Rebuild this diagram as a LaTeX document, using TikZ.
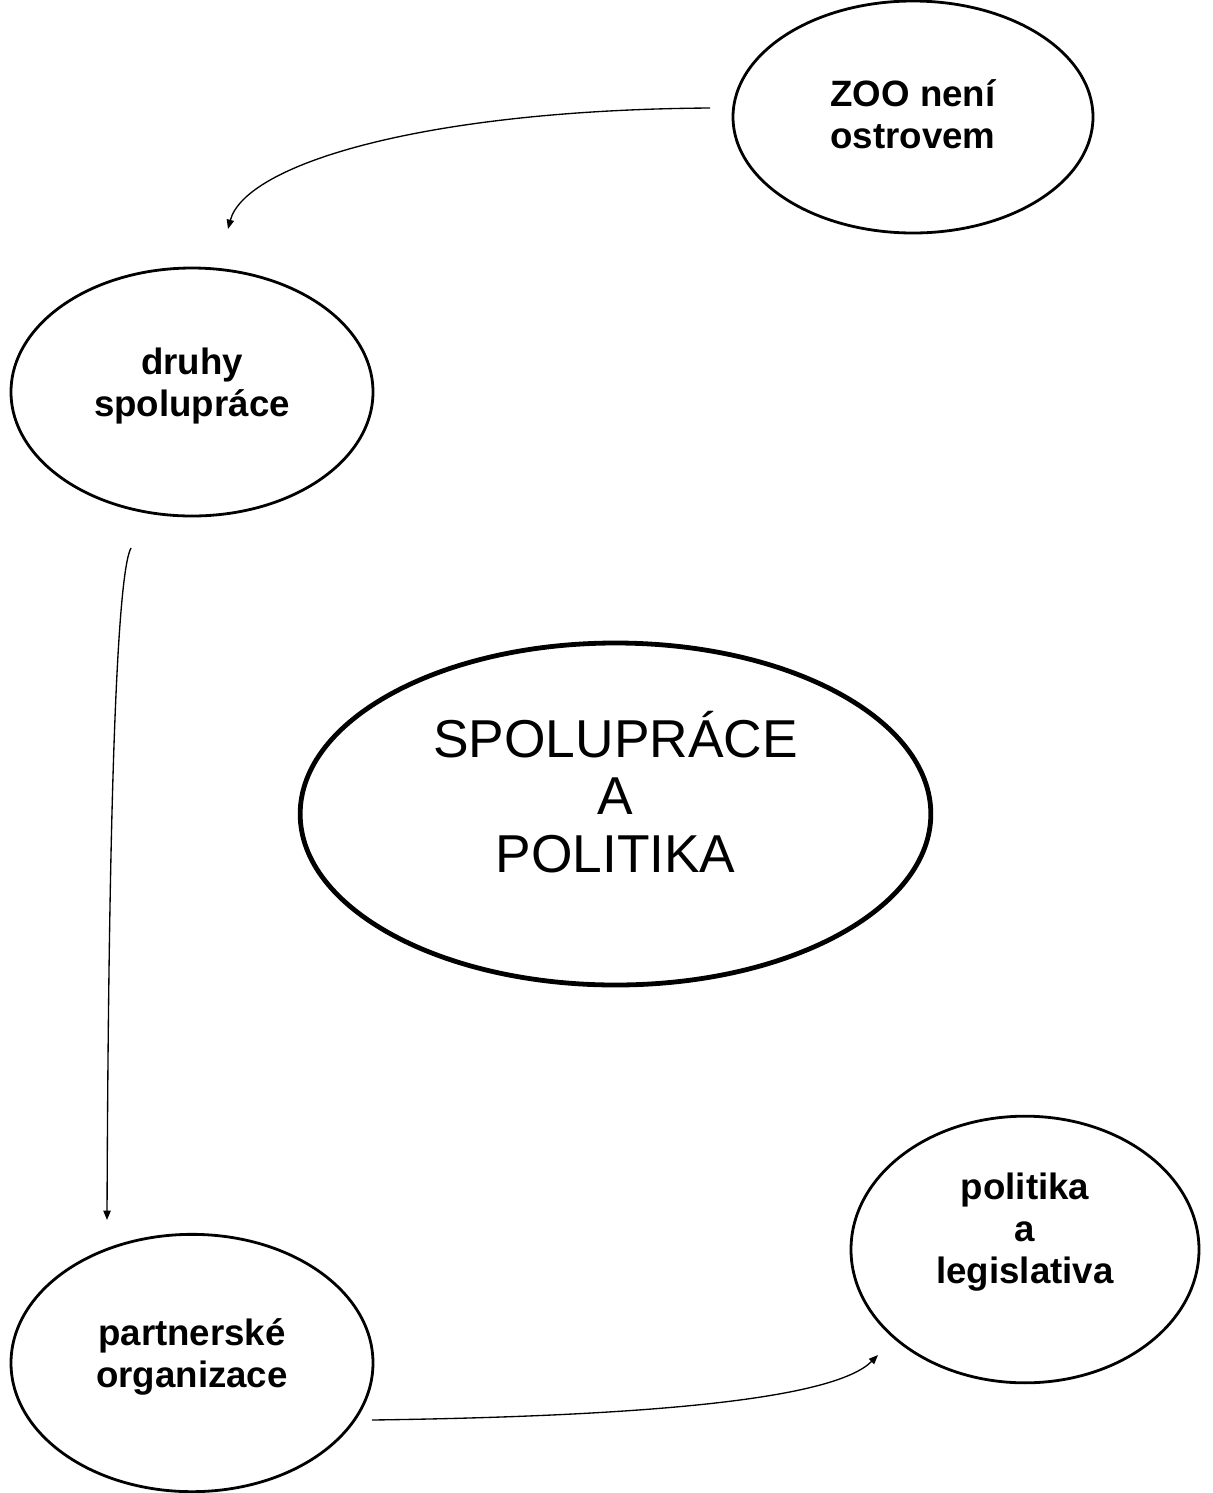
\documentclass[tikz,border=0pt]{standalone}
\usepackage{fontspec}
\setmainfont{Liberation Sans}
\usetikzlibrary{shapes.geometric,arrows.meta}

\begin{document}
\begin{tikzpicture}[x=0.75pt,y=0.75pt,yscale=-1,xscale=1,
  bubble/.style={draw,ellipse,line width=2.1pt,inner sep=0pt},
  bubbletext/.style={inner sep=0.75pt,align=center,font=\fontsize{27.5}{31.5}\selectfont\bfseries},
  link/.style={line width=1pt,-{Triangle[length=7pt,width=5.5pt]}}]
\useasboundingbox (0,0) rectangle (1213,1493);

%Shape: Ellipse
\node [bubble,minimum width=270pt,minimum height=174pt] (zoo) at (913,117) {};
%Shape: Ellipse
\node [bubble,minimum width=271.5pt,minimum height=186pt] (druhy) at (192,392) {};
%Shape: Ellipse
\node [bubble,line width=3.6pt,minimum width=473pt,minimum height=256.5pt] (spoluprace) at (615.5,814) {};
%Shape: Ellipse
\node [bubble,minimum width=261pt,minimum height=200pt] (politika) at (1025,1249.5) {};
%Shape: Ellipse
\node [bubble,minimum width=271.5pt,minimum height=193pt] (partneri) at (192,1363) {};

%Curve Lines
\coordinate (zooout) at (710,108);
\coordinate (druhyin) at (228,229);
\draw [link] (zooout) .. controls (420,110) and (245,165) .. (druhyin);
%Curve Lines
\coordinate (druhyout) at (131,548);
\coordinate (partneriin) at (107,1220);
\draw [link] (druhyout) .. controls (120,568) and (109,720) .. (partneriin);
%Curve Lines
\coordinate (partneriout) at (372,1420);
\coordinate (politikain) at (878,1355);
\draw [link] (partneriout) .. controls (660,1416) and (835,1398) .. (politikain);

% Text Node
\node [bubbletext] (zootext) at (913,114) {ZOO není\\ostrovem};
% Text Node
\node [bubbletext] (druhytext) at (192,386) {druhy\\spolupráce};
% Text Node
\node [bubbletext,font=\fontsize{40}{43}\selectfont] (spolupracetext) at (615.5,792) {SPOLUPRÁCE\\A\\POLITIKA};
% Text Node
\node [bubbletext] (politikatext) at (1025,1232) {politika\\a\\legislativa};
% Text Node
\node [bubbletext] (partneritext) at (192,1357) {partnerské\\organizace};

\end{tikzpicture}
\end{document}
